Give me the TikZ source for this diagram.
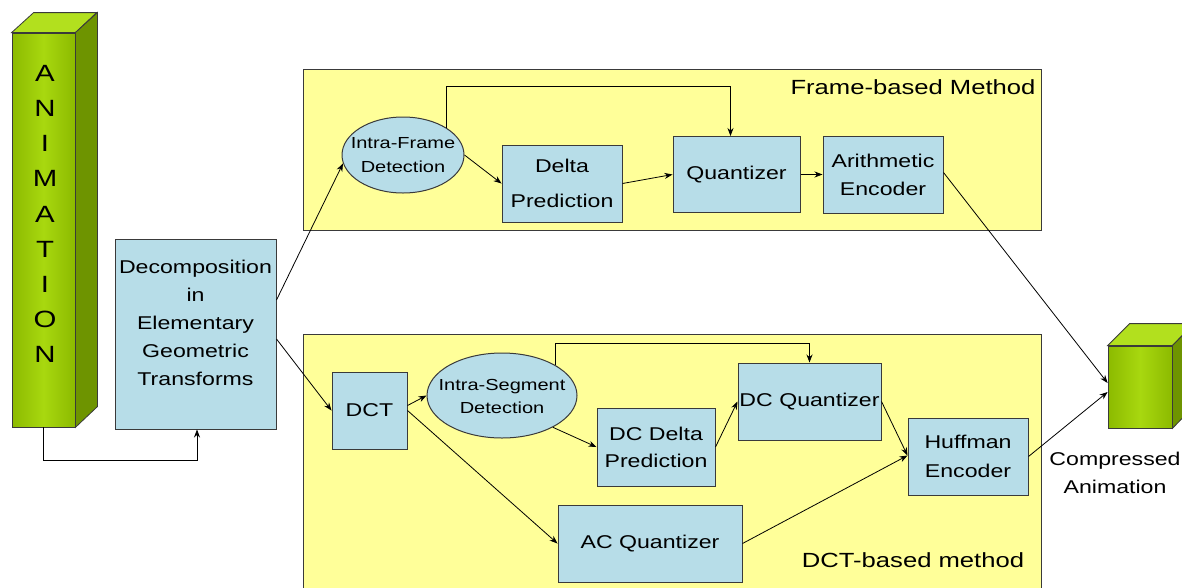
\documentclass[tikz,border=0pt]{standalone}
\usepackage{fontspec}
\setmainfont{Liberation Sans}[FakeStretch=1.25]
\usetikzlibrary{arrows.meta,shapes.geometric,calc}

\definecolor{panelfill}{HTML}{FFFF99}
\definecolor{boxfill}{HTML}{B7DDE8}
\definecolor{edge}{HTML}{3A3A3A}
\definecolor{grndark}{HTML}{8CBA00}
\definecolor{grnlight}{HTML}{A8D80F}
\definecolor{grnside}{HTML}{6E9400}
\definecolor{grntop}{HTML}{B2E01E}

\tikzset{
  panel/.style={draw=edge, fill=panelfill, line width=1pt},
  block/.style={draw=edge, fill=boxfill, line width=1pt, inner sep=0pt,
    align=center, font=\fontsize{18.5}{28}\selectfont},
  oval/.style={ellipse, draw=edge, fill=boxfill, line width=1pt, inner sep=0pt},
  ovaltext/.style={align=center, inner sep=0pt, font=\fontsize{16}{24}\selectfont},
  plain/.style={align=center, inner sep=0pt, font=\fontsize{18.5}{28}\selectfont},
  paneltitle/.style={inner sep=0pt, font=\fontsize{20.5}{24}\selectfont},
  front/.style={draw=edge, line width=0.8pt, inner sep=0pt,
    left color=grndark, right color=grndark, middle color=grnlight},
  sideface/.style={draw=edge, line width=0.8pt, fill=grnside},
  topface/.style={draw=edge, line width=0.8pt, fill=grntop},
  arr/.style={-{Stealth[length=8pt,width=6pt]}, line width=0.8pt, draw=black},
}

\begin{document}
\begin{tikzpicture}[x=1pt, y=-1pt]
\useasboundingbox (0,0) rectangle (1182,587);
\clip (0,0) rectangle (1182,587);
\fill[white] (0,0) rectangle (1182,587);

% method panels
\draw[panel] (303,69) rectangle (1041,230);
\draw[panel] (303,334) rectangle (1041,620);
\node[paneltitle] (frametitle) at (913,87) {Frame-based Method};
\node[paneltitle] (dcttitle) at (913,560) {DCT-based method};

% input prism
\node[front, minimum width=63, minimum height=394] (anim) at (43.5,230) {};
\draw[topface] (anim.north west) -- ++(22,-20) -- ++(63,0) -- (anim.north east) -- cycle;
\draw[sideface] (anim.north east) -- ++(22,-20) -- ++(0,394) -- (anim.south east) -- cycle;
\node[align=center, inner sep=0pt, font=\fontsize{23.5}{35.2}\selectfont] (animtxt) at (45,214)
  {A\\N\\I\\M\\A\\T\\I\\O\\N};

% output cube
\node[front, minimum width=64, minimum height=82] (cube) at (1140,387) {};
\draw[topface] (cube.north west) -- ++(22,-22) -- ++(64,0) -- (cube.north east) -- cycle;
\draw[sideface] (cube.north east) -- ++(22,-22) -- ++(0,82) -- (cube.south east) -- cycle;
\node[plain] (outtxt) at (1115,473) {Compressed\\Animation};

% decomposition
\node[block, minimum width=161, minimum height=190] (dec) at (195.5,334) {};
\node[plain] (dectxt) at (195.5,323) {Decomposition\\in\\Elementary\\Geometric\\Transforms};

% frame-based chain
\node[oval, minimum width=122, minimum height=76] (ifd) at (403,155) {};
\node[ovaltext] (ifdtxt) at (403,155.5) {Intra-Frame\\Detection};
\node[block, minimum width=120, minimum height=77, font=\fontsize{18.5}{35}\selectfont]
  (delta) at (562,183.5) {Delta\\Prediction};
\node[block, minimum width=127, minimum height=76] (quant) at (736.5,174.5) {Quantizer};
\node[block, minimum width=120, minimum height=77] (arith) at (883,174.5) {Arithmetic\\Encoder};

% DCT-based chain
\node[block, minimum width=75, minimum height=77] (dct) at (369.5,410.5) {DCT};
\node[oval, minimum width=150, minimum height=85] (isd) at (502,395.5) {};
\node[ovaltext, font=\fontsize{16}{23}\selectfont] (isdtxt) at (502,396.5) {Intra-Segment\\Detection};
\node[block, minimum width=118, minimum height=78, font=\fontsize{18.5}{27}\selectfont]
  (dcdelta) at (656,447) {DC Delta\\Prediction};
\node[block, minimum width=143, minimum height=77] (dcq) at (809.5,401.5) {DC Quantizer};
\node[block, minimum width=184, minimum height=77] (acq) at (650,543.5) {AC Quantizer};
\node[block, minimum width=120, minimum height=77, font=\fontsize{18.5}{29}\selectfont]
  (huff) at (968,456.5) {Huffman\\Encoder};

% routing helpers
\coordinate (animrow) at (0,460);
\coordinate (framerow) at (0,86);
\coordinate (segrow) at (0,343);

% connectors
\draw[arr] (anim.south) -- (anim.south |- animrow) -| ([xshift=1.5pt]dec.south);
\draw[arr] ([yshift=34pt]dec.east) -- (ifd.188);
\draw[arr] ([yshift=-5pt]dec.east) -- (dct.west);

\draw[arr] (ifd.32) -- (ifd.32 |- framerow) -| ([xshift=-6pt]quant.north);
\draw[arr] (ifd.east) -- (delta.west);
\draw[arr] (delta.east) -- (quant.west);
\draw[arr] (quant.east) -- (arith.west);
\draw[arr] ([yshift=2pt]arith.east) -- ([yshift=4pt]cube.west);

\draw[arr] ([yshift=5pt]dct.east) -- (isd.west);
\draw[arr] (dct.east) -- (acq.west);
\draw[arr] (isd.30) -- (isd.30 |- segrow) -| (dcq.north);
\draw[arr] (isd.-32) -- (dcdelta.west);
\draw[arr] (dcdelta.east) -- (dcq.west);
\draw[arr] (dcq.east) -- ([yshift=1pt]huff.west);
\draw[arr] (acq.east) -- ([yshift=1pt]huff.west);
\draw[arr] (huff.east) -- ([yshift=-5pt]cube.west);
\end{tikzpicture}
\end{document}
